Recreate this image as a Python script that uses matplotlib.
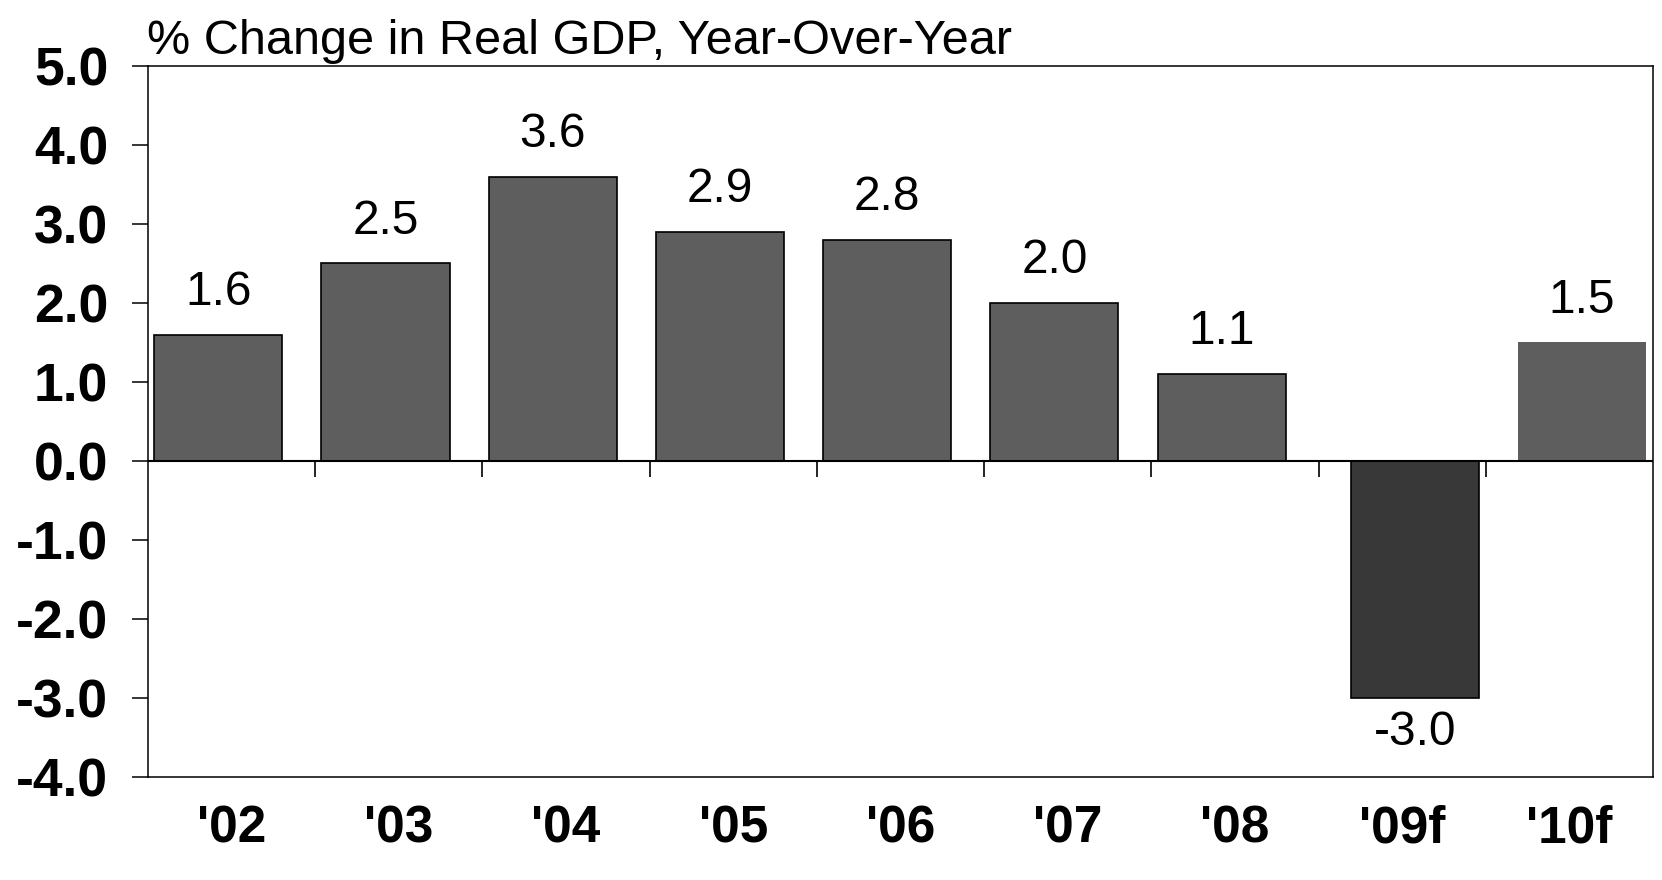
import numpy as np
import matplotlib
matplotlib.use("Agg")
import matplotlib.pyplot as plt

# data
years = ["'02", "'03", "'04", "'05", "'06", "'07", "'08", "'09f", "'10f"]
gdp_actual = [1.6, 2.5, 3.6, 2.9, 2.8, 2.0, 1.1]
gdp_forecast = [-3.0, 1.5]
y_ticks = [5.0, 4.0, 3.0, 2.0, 1.0, 0.0, -1.0, -2.0, -3.0, -4.0]
title = "% Change in Real GDP, Year-Over-Year"

plt.rcParams['font.family'] = ['Liberation Sans', 'DejaVu Sans']
plt.rcParams['axes.unicode_minus'] = False

W, H = 1662, 880
fig = plt.figure(figsize=(W / 100, H / 100), dpi=100)
ax = fig.add_axes([148 / W, 103 / H, 1505 / W, 711 / H])

x = np.arange(len(years))
n_act = len(gdp_actual)
bw = 0.766

# actual years sit left of centre, forecasts right (two-series layout)
bars_a = ax.bar(x[:n_act] - 0.08, gdp_actual, width=bw, color='#5e5e5e',
                edgecolor='black', linewidth=1.2, zorder=2)
bars_f = ax.bar(x[n_act:] + 0.075, gdp_forecast, width=bw,
                color=['#383838', '#5e5e5e'], edgecolor=['black', 'none'],
                linewidth=1.2, zorder=2)

for b, v in zip(list(bars_a) + list(bars_f), gdp_actual + gdp_forecast):
    cx = b.get_x() + b.get_width() / 2
    off = 21.5 if v >= 0 else -34
    ax.annotate(f"{v:.1f}", xy=(cx, v), xytext=(0, off), textcoords='offset points',
                ha='center', va='baseline', fontsize=34.5)

# zero line with category separators
ax.axhline(0, color='black', linewidth=1.5, zorder=3)
ax.vlines(x[:-1] + 0.5, -0.2, 0, color='black', linewidth=1.2, zorder=3)

ax.set_xlim(-0.5, len(years) - 0.5)
ax.set_ylim(-4, 5)
ax.set_yticks(y_ticks)
ax.set_yticklabels([f"{v:.1f}" for v in y_ticks], fontsize=38.5, fontweight='bold')
ax.tick_params(axis='y', length=11.5, width=1.1, pad=17)
ax.set_xticks(x)
ax.set_xticklabels(years, fontsize=37, fontweight='bold')
ax.tick_params(axis='x', length=0, pad=20)

for s in ax.spines.values():
    s.set_linewidth(1.1)

ax.annotate(title, xy=(0, 1), xycoords='axes fraction', xytext=(-1, 9),
            textcoords='offset points', ha='left', va='baseline', fontsize=35)

fig.savefig('out.png', dpi=100)
